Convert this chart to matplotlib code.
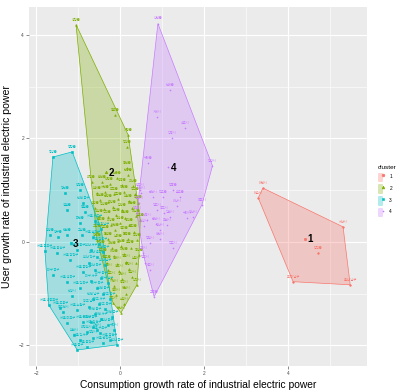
import matplotlib
matplotlib.use("Agg")
import matplotlib.pyplot as plt
from matplotlib.patches import Patch, Polygon
from matplotlib.lines import Line2D
from matplotlib.legend_handler import HandlerTuple

plt.rcParams['font.family'] = ['Liberation Sans', 'Noto Sans CJK KR', 'DejaVu Sans']

# cluster 1
c1_x = [3.40, 3.29, 5.31, 5.48, 4.12, 4.71]
c1_y = [1.04, 0.85, 0.29, -0.83, -0.77, -0.21]
c1_names = ["여천시", "여수시", "서산시", "울산 남구", "포항 남구", "당진군"]

# cluster 2
c2_x = [-1.05, -0.12, 0.19, 0.17, 0.17, 0.19, -0.07,
        -0.68, -0.43, -0.25, 0.05, 0.30,
        -0.55, -0.35, -0.15, 0.10, 0.35,
        -0.48, -0.28, -0.05, 0.20, 0.42,
        -0.60, -0.38, -0.18, 0.05, 0.28,
        -0.50, -0.30, -0.10, 0.12, 0.38,
        -0.45, -0.22, 0.00, 0.22, 0.48,
        -0.55, -0.35, -0.12, 0.10, 0.32,
        -0.55, -0.28, -0.05, 0.18, 0.40,
        -0.45, -0.20, 0.02, 0.25,
        -0.40, -0.15, 0.10, 0.45,
        -0.32, -0.08, 0.15, 0.38,
        -0.28, -0.02, 0.22,
        -0.22, 0.05, 0.28,
        -0.15, 0.10, 0.40,
        -0.10, 0.15,
        -0.17, 0.02, 0.10]
c2_y = [4.20, 2.46, 2.07, 1.84, 1.43, 1.30, 1.24,
        1.15, 1.16, 1.12, 1.10, 1.08,
        0.95, 0.97, 0.93, 0.96, 0.92,
        0.80, 0.78, 0.82, 0.79, 0.76,
        0.66, 0.63, 0.67, 0.62, 0.65,
        0.50, 0.48, 0.52, 0.47, 0.50,
        0.35, 0.33, 0.37, 0.32, 0.43,
        0.20, 0.18, 0.22, 0.17, 0.20,
        0.04, 0.05, 0.02, 0.06, 0.03,
        -0.10, -0.12, -0.08, -0.11,
        -0.25, -0.27, -0.23, -0.26,
        -0.40, -0.42, -0.38, -0.41,
        -0.55, -0.57, -0.53,
        -0.70, -0.72, -0.68,
        -0.85, -0.88, -0.83,
        -1.02, -1.00,
        -1.18, -1.37, -1.20]
c2_names = ["영양군", "칠곡군", "가평군", "청양군", "홍천군", "단양군", "보은군",
            "의령군", "합천군", "산청군", "영동군", "괴산군",
            "부여군", "서천군", "무주군", "진안군", "장수군",
            "임실군", "순창군", "고창군", "부안군", "함평군",
            "영광군", "장성군", "곡성군", "담양군", "화순군",
            "보성군", "강진군", "영암군", "무안군", "해남군",
            "군위군", "의성군", "청송군", "영덕군", "청도군",
            "고령군", "성주군", "예천군", "봉화군", "울진군",
            "함안군", "창녕군", "남해군", "하동군", "함양군",
            "거창군", "옥천군", "진천군", "음성군",
            "금산군", "예산군", "태안군", "홍성군",
            "완주군", "김제시", "정읍시", "남원시",
            "나주시", "상주시", "문경시",
            "영주시", "영천시", "밀양시",
            "사천시", "통영시", "삼척시",
            "동해시", "제천시",
            "공주시", "논산시", "보령시"]

# cluster 3
c3_x = [-1.14, -1.60, -1.79, -1.70, -1.02, -0.07,
        -0.95, -1.31, -1.26, -0.88, -0.83, -0.95, -1.48, -0.90, -1.67, -1.26,
        -1.50, -1.02, -1.19, -1.60, -0.88, -1.26, -0.95, -1.43, -1.02, -0.88,
        -1.26, -0.64, -0.95, -0.48, -0.24, -0.79, -0.40,
        -0.60, -0.45, -0.65, -0.50, -0.70, -0.40, -0.55, -0.75, -0.35, -0.60,
        -0.45, -0.70, -0.30, -0.55, -0.40, -0.65, -0.25, -0.50, -0.75, -0.35,
        -0.60, -0.20, -0.45, -0.70, -0.30, -0.55, -0.15, -0.80, -0.65, -1.10,
        -1.15, -1.35]
c3_y = [1.74, 1.64, -0.18, -1.22, -2.09, -1.99,
        1.00, 0.95, 0.62, 0.75, 0.58, 0.37, 0.10, 0.14, 0.14, 0.14,
        -0.21, -0.15, -0.35, -0.64, -0.58, -0.77, -0.89, -1.28, -1.32, -1.55,
        -1.57, -1.64, -1.90, -1.76, -1.90, -2.03, -1.95,
        0.40, 0.25, 0.10, -0.05, -0.15, -0.20, -0.30, -0.40, -0.45, -0.55,
        -0.70, -0.75, -0.80, -0.90, -1.00, -1.10, -1.10, -1.20, -1.25, -1.30,
        -1.40, -1.45, -1.50, -1.55, -1.60, -1.70, -1.70, -1.75, -1.85, -1.80,
        -1.05, -1.35]
c3_names = ["평창군", "횡성군", "서울 종로구", "서울 영등포구", "서울 중구", "부산 중구",
            "양평군", "정선군", "영월군", "인천 중구", "철원군", "화천군", "양구군", "고성군", "양양군", "연천군",
            "서울 용산구", "서울 성동구", "서울 광진구", "대구 중구", "서울 중랑구", "서울 성북구",
            "서울 강북구", "서울 도봉구", "서울 노원구", "서울 은평구",
            "서울 마포구", "서울 양천구", "서울 강서구", "서울 구로구", "서울 금천구", "서울 동작구", "서울 관악구",
            "서울 서초구", "서울 강남구", "서울 송파구", "서울 강동구", "부산 서구", "부산 동구", "부산 영도구",
            "부산 진구", "부산 남구", "부산 북구",
            "대구 동구", "대구 서구", "대구 남구", "대구 북구", "인천 동구", "인천 남구", "광주 동구",
            "광주 서구", "광주 남구", "광주 북구",
            "대전 동구", "대전 중구", "대전 서구", "울산 중구", "울산 동구", "과천시", "구리시",
            "의정부시", "광명시", "부천시", "안양시", "동두천시"]

# cluster 4
c4_x = [0.90, 1.19, 0.88, 1.55, 1.24, 0.67, 2.20, 1.26, 1.43, 1.02,
        0.79, 1.95, 0.88, 1.19, 0.64, 1.60, 0.95, 0.71, 1.26, 0.55,
        1.74, 0.71, 0.81, 1.12, 0.45, 0.50, 0.58, 0.40, 1.35, 0.95,
        0.60, 1.05, 0.48, 0.85]
c4_y = [4.22, 2.94, 2.42, 2.20, 2.01, 1.53, 1.47, 1.00, 0.87, 0.87,
        0.87, 0.72, 0.62, 0.48, 0.43, 0.46, 0.23, -0.02, -0.12, -0.21,
        0.48, -0.54, -1.06, 0.33, 0.75, 0.95, 0.30, 0.55, 0.70, 0.05,
        -0.40, 0.55, 1.00, 0.35]
c4_names = ["신안군", "인제군", "거제시", "속초시", "강릉시", "구례군", "광양시", "장흥군", "완도군", "진도군",
            "순천시", "목포시", "경주시", "김천시", "안동시", "구미시", "경산시", "창원시", "진주시", "김해시",
            "양산시", "여주시", "고흥군", "포천시", "양주시", "이천시", "안성시", "평택시", "아산시", "천안시",
            "청주시", "충주시", "원주시", "춘천시"]

centers_x = [4.40, -0.33, -1.18, 1.15]
centers_y = [0.06, 1.35, -0.02, 1.45]
cluster_ids = ["1", "2", "3", "4"]

colors = ["#F8766D", "#7CAE00", "#00BFC4", "#C77CFF"]
markers = ["o", "^", "s", "+"]


def convex_hull(pts):
    pts = sorted(set(pts))
    if len(pts) < 3:
        return pts

    def cross(o, a, b):
        return (a[0] - o[0]) * (b[1] - o[1]) - (a[1] - o[1]) * (b[0] - o[0])

    lower = []
    for p in pts:
        while len(lower) >= 2 and cross(lower[-2], lower[-1], p) <= 0:
            lower.pop()
        lower.append(p)
    upper = []
    for p in reversed(pts):
        while len(upper) >= 2 and cross(upper[-2], upper[-1], p) <= 0:
            upper.pop()
        upper.append(p)
    return lower[:-1] + upper[:-1]


fig = plt.figure(figsize=(4.04, 3.92), dpi=100)
ax = fig.add_axes([0.0718, 0.0663, 0.8366, 0.9158])
ax.set_facecolor("#EBEBEB")

clusters = [(c1_x, c1_y, c1_names), (c2_x, c2_y, c2_names),
            (c3_x, c3_y, c3_names), (c4_x, c4_y, c4_names)]

# hulls first
for i, (xs, ys, names) in enumerate(clusters):
    hull = convex_hull(list(zip(xs, ys)))
    ax.add_patch(Polygon(hull, closed=True, facecolor=colors[i], alpha=0.3,
                         edgecolor="none", zorder=2))
    ax.add_patch(Polygon(hull, closed=True, facecolor="none",
                         edgecolor=colors[i], lw=0.5, zorder=2.5))

for i, (xs, ys, names) in enumerate(clusters):
    ax.scatter(xs, ys, s=1.5, marker=markers[i], color=colors[i],
               linewidths=0.4, zorder=3)
    for x, y, n in zip(xs, ys, names):
        ax.text(x, y + 0.06, n, fontsize=2.3, color=colors[i], ha="center",
                va="bottom", family=["Noto Sans CJK KR", "DejaVu Sans"], zorder=3)

# cluster centres with their ids
for i, (cx, cy, cid) in enumerate(zip(centers_x, centers_y, cluster_ids)):
    ax.scatter([cx], [cy], s=3, marker=markers[i], color=colors[i],
               linewidths=0.5, zorder=4)
    ax.annotate(cid, (cx, cy), xytext=(3.5, -0.5), textcoords="offset points",
                fontsize=7, fontweight="bold", color="black",
                ha="center", va="center", zorder=4)

ax.set_xlim(-2.17, 5.88)
ax.set_ylim(-2.4, 4.54)
ax.set_xticks([-2, 0, 2, 4])
ax.set_yticks([-2, 0, 2, 4])
ax.set_xticks([-1, 1, 3, 5], minor=True)
ax.set_yticks([-1, 1, 3], minor=True)
ax.grid(which="major", color="white", lw=0.8)
ax.grid(which="minor", color="white", lw=0.4)
ax.set_axisbelow(True)
for s in ax.spines.values():
    s.set_visible(False)
ax.tick_params(which="major", labelsize=3.5, colors="#333333", length=2, width=0.4,
               labelcolor="#4D4D4D", pad=1.5)
ax.tick_params(which="minor", length=0)

ax.set_xlabel("Consumption growth rate of industrial electric power", fontsize=7.4, labelpad=3)
ax.set_ylabel("User growth rate of industrial electric power", fontsize=7.6, labelpad=5)

handles = []
for i in range(4):
    handles.append((Patch(facecolor=colors[i], alpha=0.3, edgecolor=colors[i], lw=0.4),
                    Line2D([], [], marker=markers[i], color=colors[i], ls="none",
                           markersize=2, markeredgewidth=0.4)))
leg = fig.legend(handles=handles, labels=cluster_ids, loc="upper left",
                 bbox_to_anchor=(0.93, 0.585), frameon=False, fontsize=3.5,
                 title="cluster", title_fontsize=4.6,
                 handler_map={tuple: HandlerTuple(ndivide=None, pad=0)},
                 handlelength=1.6, handleheight=2.4, labelspacing=0.6,
                 handletextpad=0.8, borderaxespad=0)
leg._legend_box.align = "left"

fig.savefig("out.png", dpi=100)
